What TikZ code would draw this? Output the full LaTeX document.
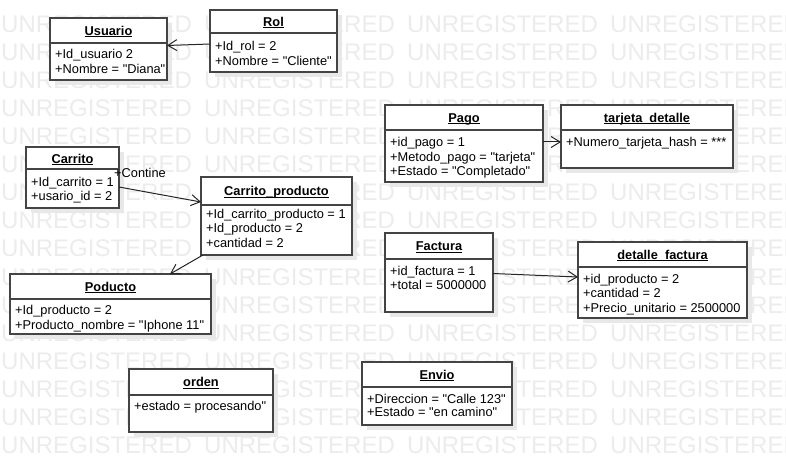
\documentclass[tikz,border=0pt]{standalone}
\usepackage{fontspec}
\setmainfont{Liberation Sans}[Ligatures=TeXOff]
\usetikzlibrary{arrows.meta,calc}
\definecolor{wm}{RGB}{236,236,236}
\definecolor{shd}{RGB}{232,232,232}
\definecolor{edge}{RGB}{68,68,68}
\newcommand{\uhead}[1]{\underline{\smash{#1}}}
\newcommand{\mkbox}[6]{%
  \fill[shadowbox] (#2+5,#3+5) rectangle (#4+5,#5+5);
  \node[umlbox, minimum width={#4-#2}, minimum height={#5-#3}] (#1) at (#2,#3) {};
  \draw[sepline] (#2,#6) -- (#4,#6);
}
\tikzset{
  umlbox/.style={draw=edge, line width=1.4pt, fill=white, rectangle, inner sep=0pt, outer sep=0pt, anchor=north west},
  sepline/.style={draw=edge, line width=1.4pt},
  shadowbox/.style={fill=shd},
  head/.style={font=\fontsize{12.8}{15}\selectfont\bfseries, inner sep=0pt, text height=9.2pt, text depth=0pt},
  attr/.style={font=\fontsize{12.8}{15}\selectfont, inner sep=0pt, anchor=west, text height=9.2pt, text depth=0pt},
  assoc/.style={draw=black!85, line width=1pt, -{Straight Barb[length=9pt,width=11pt,line width=1pt]}},
  wmark/.style={font=\fontsize{24}{24}\selectfont, text=wm, inner sep=0pt, anchor=west, text height=17.2pt, text depth=0pt},
}
\begin{document}
\begin{tikzpicture}[x=1pt,y=-1pt]
\fill[white] (0,0) rectangle (786,473);
\useasboundingbox (0,0) rectangle (786,473);
% watermark
\foreach \k in {0,...,15}{
  \foreach \j in {0,...,3}{
    \node[wmark] (wm-\k-\j) at ({1+203*\j},{23.5+28.1*\k}) {UNREGISTERED};
  }
}
% boxes
\mkbox{usuario}{50}{18}{167}{80}{43}
\node[head] (usuario-h) at (108.5,30.5) {\uhead{Usuario}};
\node[attr] (usuario-a1) at (55,53.5) {+Id\_usuario 2};
\node[attr] (usuario-a2) at (55,68.5) {+Nombre = "Diana"};

\mkbox{rol}{210}{10}{337}{72}{33}
\node[head] (rol-h) at (273.5,21.5) {\uhead{Rol}};
\node[attr] (rol-a1) at (215,45.5) {+Id\_rol = 2};
\node[attr] (rol-a2) at (215,60.5) {+Nombre = "Cliente"};

\mkbox{carrito}{26}{147}{119}{208}{169}
\node[head] (carrito-h) at (72.5,158.5) {\uhead{Carrito}};
\node[attr] (carrito-a1) at (31,181.5) {+Id\_carrito = 1};
\node[attr] (carrito-a2) at (31,196) {+usario\_id = 2};

\mkbox{cp}{201}{177}{352}{255}{205}
\node[head] (cp-h) at (276.5,191) {\uhead{Carrito\_producto}};
\node[attr] (cp-a1) at (206,213.5) {+Id\_carrito\_producto = 1};
\node[attr] (cp-a2) at (206,228) {+Id\_producto = 2};
\node[attr] (cp-a3) at (206,242.5) {+cantidad = 2};

\mkbox{poducto}{10}{274}{211}{334}{299}
\node[head] (poducto-h) at (110.5,286.5) {\uhead{Poducto}};
\node[attr] (poducto-a1) at (15,310) {+Id\_producto = 2};
\node[attr] (poducto-a2) at (15,324.5) {+Producto\_nombre = "Iphone 11"};

\mkbox{pago}{385}{105}{543}{182}{130}
\node[head] (pago-h) at (464,117.5) {\uhead{Pago}};
\node[attr] (pago-a1) at (390,142) {+id\_pago = 1};
\node[attr] (pago-a2) at (390,156.5) {+Metodo\_pago = "tarjeta"};
\node[attr] (pago-a3) at (390,171) {+Estado = "Completado"};

\mkbox{tarjeta}{561}{105}{733}{168}{130}
\node[head] (tarjeta-h) at (647,117.5) {\uhead{tarjeta\_detalle}};
\node[attr] (tarjeta-a1) at (566,142) {+Numero\_tarjeta\_hash = ***};

\mkbox{factura}{385}{233}{493}{312}{259}
\node[head] (factura-h) at (439,246) {\uhead{Factura}};
\node[attr] (factura-a1) at (390,270.5) {+id\_factura = 1};
\node[attr] (factura-a2) at (390,285) {+total = 5000000};

\mkbox{detalle}{578}{242}{747}{318}{267}
\node[head] (detalle-h) at (662.5,254.5) {\uhead{detalle\_factura}};
\node[attr] (detalle-a1) at (583,278.5) {+id\_producto = 2};
\node[attr] (detalle-a2) at (583,293) {+cantidad = 2};
\node[attr] (detalle-a3) at (583,307.5) {+Precio\_unitario = 2500000};

\mkbox{orden}{129}{369}{273}{432}{395}
\node[head] (orden-h) at (201,382) {\uhead{orden}};
\node[attr] (orden-a1) at (134,405.5) {+estado = procesando"};

\mkbox{envio}{362}{362}{512}{425}{387}
\node[head] (envio-h) at (437,374.5) {\uhead{Envio}};
\node[attr] (envio-a1) at (367,398.5) {+Direccion = "Calle 123"};
\node[attr] (envio-a2) at (367,412) {+Estado = "en camino"};

% connectors
\draw[assoc] ($(rol.west)+(0,3)$) -- ($(usuario.east)+(0,-3.5)$);
\draw[assoc] ($(carrito.east)+(0,9.5)$) -- ($(cp.west)+(0,-14)$);
\node[attr] (contine) at (114,172.5) {+Contine};
\draw[assoc] ($(cp.south west)+(2,0)$) -- ($(poducto.north)+(59.5,0)$);
\draw[assoc] ($(pago.east)+(0,-1.5)$) -- ($(tarjeta.west)+(0,5.5)$);
\draw[assoc] ($(factura.east)+(0,1)$) -- ($(detalle.west)+(0,-3)$);
\end{tikzpicture}
\end{document}
